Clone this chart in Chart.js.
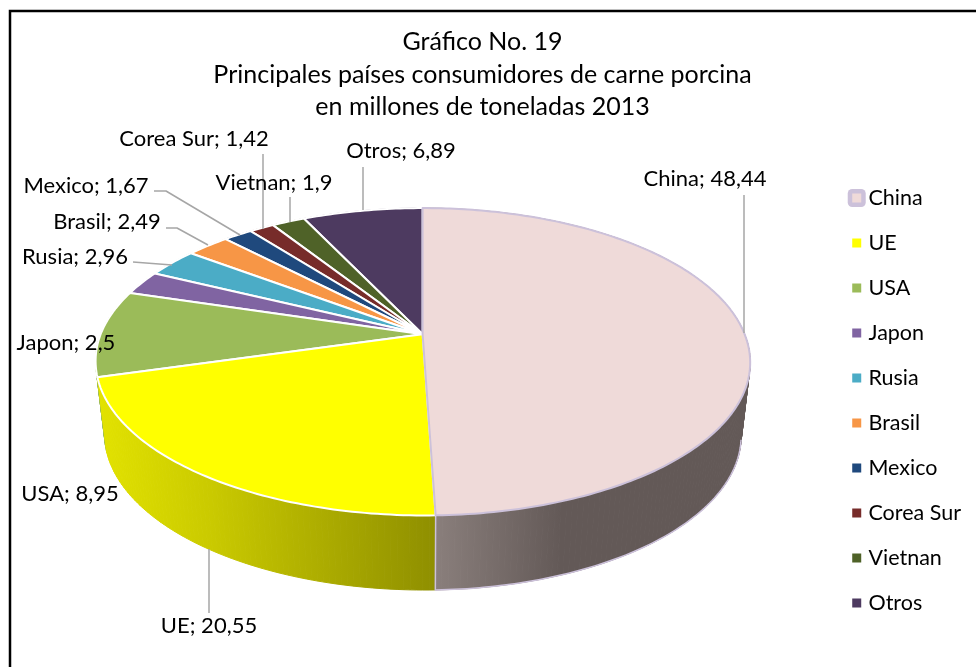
<!DOCTYPE html>
<html>
<head>
<meta charset="utf-8">
<style>
  html, body { margin: 0; background: #fff; }
  #wrap { width: 976px; height: 667px; }
</style>
</head>
<body>
<div id="wrap"><canvas id="pieChart" width="976" height="667"></canvas></div>
<script src="https://cdn.jsdelivr.net/npm/chart.js@4"></script>
<script>
const titleLines = ['Gráfico No. 19', 'Principales países consumidores de carne porcina', 'en millones de toneladas 2013'];
const categories = ['China', 'UE', 'USA', 'Japon', 'Rusia', 'Brasil', 'Mexico', 'Corea Sur', 'Vietnan', 'Otros'];
const values = [48.44, 20.55, 8.95, 2.5, 2.96, 2.49, 1.67, 1.42, 1.9, 6.89];
const sliceColors = ['#efdad9', '#ffff00', '#9bbb59', '#8064a2', '#4bacc6', '#f79646', '#1f497d', '#772c2a', '#4f6228', '#4d3a60'];

// where each data label sits, and its leader line (if it has one)
const labelSpots = [
  { x: 705, y: 179, line: [[744, 195], [744, 333]] },
  { x: 209, y: 626, line: [[209, 549], [209, 613]] },
  { x: 70, y: 494 },
  { x: 66, y: 343 },
  { x: 75, y: 257, line: [[133, 262], [172, 265]] },
  { x: 107, y: 222, line: [[166, 228], [177, 228], [208, 245]] },
  { x: 86, y: 186, line: [[154, 191], [166, 191], [240, 235]] },
  { x: 194, y: 139, line: [[263, 154], [263, 229]] },
  { x: 274, y: 183, line: [[290, 197], [290, 222]] },
  { x: 401, y: 151, line: [[363, 167], [363, 210]] }
];

const fontName = 'Lato';
const lilac = '#ccc1da';
const perspective = 0.179;
const pieShift = { x: 9.5, y: -66 };
const legendShift = { x: 9, y: 59 };
const legendPadding = 23.5;
const legendFont = 21.5;
const topDisk = { scaleX: 1, scaleY: 0.462, shiftY: 0 };
const bottomDisk = { scaleX: 0.9725, scaleY: 0.466, shiftY: 73 };

// Excel style tilted disk: the near side of the pie gets bigger
function project(arc, disk, angle) {
  const u = Math.cos(angle), v = Math.sin(angle);
  const d = 1 - perspective * v;
  const lean = 1.5 * Math.max(v, 0);
  return {
    x: arc.x + pieShift.x + (arc.outerRadius * disk.scaleX * u + lean) / d,
    y: arc.y + pieShift.y + disk.shiftY + arc.outerRadius * disk.scaleY * v / d
  };
}

function sampleAngles(arc) {
  const n = Math.max(4, Math.ceil((arc.endAngle - arc.startAngle) * 60));
  const out = [];
  for (let i = 0; i <= n; i++) out.push(arc.startAngle + (arc.endAngle - arc.startAngle) * i / n);
  return out;
}

function wallFill(ctx, i) {
  if (i === 0) {
    const g = ctx.createLinearGradient(435, 0, 751, 0);
    g.addColorStop(0, '#8a7f7c');
    g.addColorStop(0.4, '#635957');
    g.addColorStop(1, '#635957');
    return g;
  }
  if (i === 1) {
    const g = ctx.createLinearGradient(100, 0, 435, 0);
    g.addColorStop(0, '#e2e200');
    g.addColorStop(0.33, '#caca00');
    g.addColorStop(0.6, '#b2b200');
    g.addColorStop(1, '#8f8f00');
    return g;
  }
  return sliceColors[i];
}

function drawWall(ctx, arc, i) {
  const fill = wallFill(ctx, i);
  ctx.fillStyle = fill;
  ctx.strokeStyle = fill;
  ctx.lineWidth = 1;
  const angles = sampleAngles(arc);
  for (let k = 0; k < angles.length - 1; k++) {
    const a = project(arc, topDisk, angles[k]), b = project(arc, topDisk, angles[k + 1]);
    const c = project(arc, bottomDisk, angles[k + 1]), d = project(arc, bottomDisk, angles[k]);
    ctx.beginPath();
    ctx.moveTo(a.x, a.y);
    ctx.lineTo(b.x, b.y);
    ctx.lineTo(c.x, c.y);
    ctx.lineTo(d.x, d.y);
    ctx.closePath();
    ctx.fill();
    ctx.stroke();
  }
}

function drawChinaWallEdge(ctx, arc) {
  ctx.strokeStyle = lilac;
  ctx.lineWidth = 1.5;
  ctx.beginPath();
  const t = project(arc, topDisk, arc.endAngle);
  ctx.moveTo(t.x, t.y);
  sampleAngles(arc).reverse().forEach(a => {
    if (a > 0.2) {
      const p = project(arc, bottomDisk, a);
      ctx.lineTo(p.x, p.y);
    }
  });
  ctx.stroke();
}

function drawFace(ctx, arc, color, edge, width) {
  ctx.beginPath();
  ctx.moveTo(arc.x + pieShift.x, arc.y + pieShift.y);
  sampleAngles(arc).forEach(a => {
    const p = project(arc, topDisk, a);
    ctx.lineTo(p.x, p.y);
  });
  ctx.closePath();
  ctx.fillStyle = color;
  ctx.fill();
  ctx.strokeStyle = edge;
  ctx.lineWidth = width;
  ctx.lineJoin = 'round';
  ctx.stroke();
}

function drawLabels(ctx) {
  ctx.font = '22px ' + fontName;
  ctx.textAlign = 'center';
  ctx.textBaseline = 'middle';
  labelSpots.forEach((spot, i) => {
    if (spot.line) {
      ctx.strokeStyle = '#a6a6a6';
      ctx.lineWidth = 1.5;
      ctx.beginPath();
      spot.line.forEach((p, k) => k ? ctx.lineTo(p[0], p[1]) : ctx.moveTo(p[0], p[1]));
      ctx.stroke();
    }
    ctx.fillStyle = '#000';
    ctx.fillText(categories[i] + '; ' + String(values[i]).replace('.', ','), spot.x, spot.y);
  });
}

const pie3d = {
  id: 'pie3d',
  beforeDraw(chart) {
    const ctx = chart.ctx;
    ctx.fillStyle = '#fff';
    ctx.fillRect(0, 0, chart.width, chart.height);
  },
  afterLayout(chart) {
    const lg = chart.legend;
    lg.left += legendShift.x;
    lg.right += legendShift.x;
    lg.top += legendShift.y;
    lg.bottom += legendShift.y;
  },
  beforeDatasetDraw(chart, args) {
    const ctx = chart.ctx;
    const arcs = args.meta.data;
    ctx.save();
    for (let i = arcs.length - 1; i >= 0; i--) drawWall(ctx, arcs[i], i);
    drawChinaWallEdge(ctx, arcs[0]);
    for (let i = arcs.length - 1; i > 0; i--) drawFace(ctx, arcs[i], sliceColors[i], '#fff', 2);
    drawFace(ctx, arcs[0], sliceColors[0], lilac, 2);
    drawLabels(ctx);
    ctx.restore();
    return false;
  },
  afterDraw(chart) {
    const ctx = chart.ctx;
    // only the top and left edges of the frame are in the picture
    ctx.strokeStyle = '#000';
    ctx.lineWidth = 2.5;
    ctx.beginPath();
    ctx.moveTo(10, 667);
    ctx.lineTo(10, 11);
    ctx.lineTo(976, 11);
    ctx.stroke();
    // China's legend marker has a pink core inside the thick lilac edge
    const lg = chart.legend;
    const top = (lg.top + legendPadding + lg.bottom - lg.columnSizes[0].height) / 2;
    ctx.fillStyle = sliceColors[0];
    ctx.fillRect(lg.left + legendPadding + 1 - 4.5, top + legendFont / 2 - 4.5, 9, 9);
  }
};

new Chart(document.getElementById('pieChart'), {
  type: 'pie',
  data: {
    labels: categories,
    datasets: [{ data: values, backgroundColor: sliceColors, radius: 322, borderWidth: 0 }]
  },
  options: {
    responsive: false,
    animation: false,
    layout: { padding: { left: 3, right: 14, top: 16, bottom: 0 } },
    plugins: {
      tooltip: { enabled: false },
      title: {
        display: true,
        text: titleLines,
        color: '#000',
        padding: { top: 10, bottom: 10 },
        font: { family: fontName, size: 25, weight: 'normal', lineHeight: 1.3 }
      },
      legend: {
        position: 'right',
        labels: {
          color: '#000',
          usePointStyle: true,
          pointStyle: 'rect',
          boxWidth: 2,
          boxHeight: 9,
          padding: legendPadding,
          font: { family: fontName, size: legendFont, lineHeight: 1.143 },
          generateLabels() {
            return categories.map((name, i) => ({
              text: name,
              fontColor: '#000',
              fillStyle: sliceColors[i],
              strokeStyle: i === 0 ? lilac : sliceColors[i],
              lineWidth: i === 0 ? 9 : 0,
              lineJoin: 'round',
              pointStyle: 'rect',
              hidden: false,
              index: i
            }));
          }
        }
      }
    }
  },
  plugins: [pie3d]
});
</script>
</body>
</html>
